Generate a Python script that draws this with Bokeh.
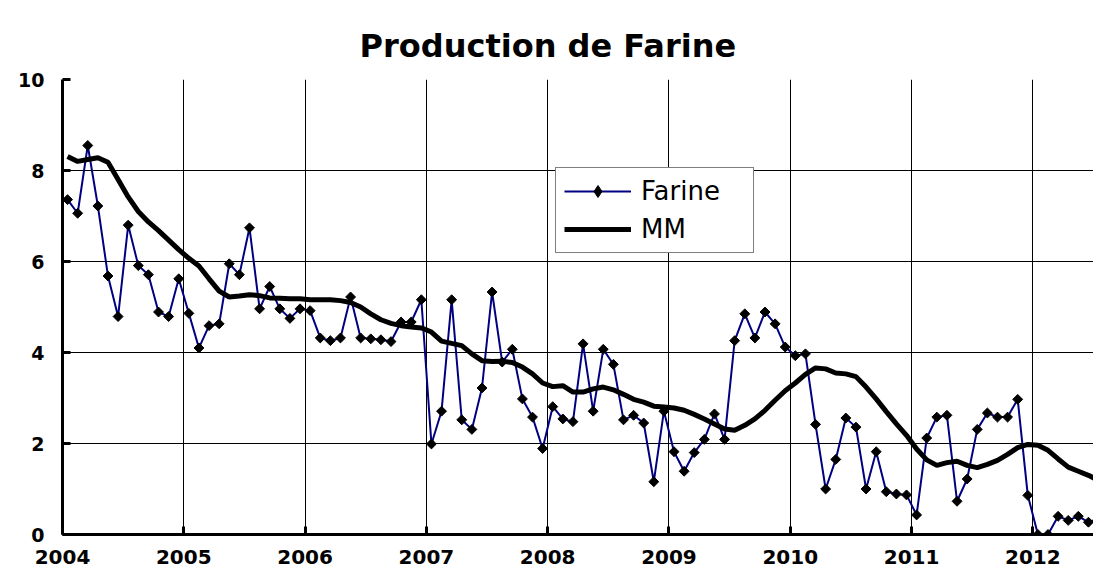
from bokeh.plotting import figure
from bokeh.models import FixedTicker, Range1d, Legend, LegendItem, ColumnDataSource
from bokeh.embed import file_html
from bokeh.resources import INLINE
import numpy as np

# ---- data (monthly, starting January 2004) ----
start_year = 2004
farine = [7.36, 7.06, 8.55, 7.22, 5.68, 4.79, 6.80, 5.91, 5.71, 4.89, 4.79, 5.62,
          4.86, 4.10, 4.59, 4.63, 5.95, 5.71, 6.74, 4.96, 5.45, 4.96, 4.75, 4.96,
          4.92, 4.32, 4.26, 4.32, 5.22, 4.32, 4.30, 4.28, 4.24, 4.67, 4.67, 5.16,
          1.99, 2.71, 5.16, 2.52, 2.31, 3.22, 5.33, 3.79, 4.07, 2.98, 2.58, 1.89,
          2.81, 2.54, 2.48, 4.19, 2.71, 4.07, 3.74, 2.52, 2.62, 2.45, 1.16, 2.71,
          1.82, 1.39, 1.80, 2.09, 2.65, 2.09, 4.26, 4.85, 4.32, 4.89, 4.63, 4.12,
          3.93, 3.97, 2.42, 1.00, 1.65, 2.56, 2.36, 1.00, 1.82, 0.94, 0.89, 0.87,
          0.43, 2.12, 2.58, 2.62, 0.73, 1.22, 2.31, 2.67, 2.58, 2.58, 2.97, 0.86,
          0.00, 0.00, 0.40, 0.31, 0.40, 0.27, 0.35]
mm = [8.31, 8.20, 8.24, 8.28, 8.18, 7.80, 7.42, 7.10, 6.87, 6.68, 6.47, 6.26,
      6.07, 5.90, 5.62, 5.35, 5.22, 5.24, 5.27, 5.25, 5.20, 5.19, 5.18, 5.18,
      5.16, 5.16, 5.16, 5.14, 5.10, 5.00, 4.85, 4.72, 4.64, 4.59, 4.56, 4.54,
      4.45, 4.25, 4.20, 4.15, 3.97, 3.82, 3.80, 3.81, 3.78, 3.68, 3.53, 3.33,
      3.25, 3.27, 3.13, 3.13, 3.20, 3.24, 3.18, 3.08, 2.97, 2.91, 2.82, 2.80,
      2.78, 2.73, 2.64, 2.54, 2.43, 2.32, 2.29, 2.40, 2.54, 2.73, 2.95, 3.16,
      3.33, 3.52, 3.66, 3.64, 3.55, 3.53, 3.47, 3.24, 2.98, 2.70, 2.43, 2.18,
      1.88, 1.64, 1.52, 1.58, 1.61, 1.52, 1.47, 1.54, 1.63, 1.76, 1.91, 1.98,
      1.96, 1.85, 1.66, 1.48, 1.39, 1.30, 1.19]
year_ticks = [2004, 2005, 2006, 2007, 2008, 2009, 2010, 2011, 2012]
year_labels = ["2004", "2005", "2006", "2007", "2008", "2009", "2010", "2011", "2012"]
y_ticks = [0, 2, 4, 6, 8, 10]
y_labels = ["0", "2", "4", "6", "8", "10"]
title_text = "Production de Farine"
series_names = ["Farine", "MM"]

x = [start_year + (i + 0.5) / 12.0 for i in range(len(farine))]

FONT = "DejaVu Sans"

p = figure(width=1086, height=564, output_backend="svg", toolbar_location=None,
           tools="", x_range=Range1d(2004, 2012.5), y_range=Range1d(0, 10),
           min_border_left=55, min_border_right=0, min_border_top=71,
           min_border_bottom=38)
p.styles = {"margin-left": "7px", "margin-top": "8px"}
p.outline_line_color = None
p.background_fill_color = "white"
p.border_fill_color = "white"

p.title.text = title_text
p.title.align = "left"
p.title.offset = 297
p.title.text_font = FONT
p.title.text_font_size = "32px"
p.title.text_font_style = "bold"
p.title.text_color = "black"
p.title.standoff = 30

# axes
for ax in (p.xaxis[0], p.yaxis[0]):
    ax.axis_line_width = 3
    ax.axis_line_color = "black"
    ax.major_tick_in = 8
    ax.major_tick_out = 0
    ax.major_tick_line_width = 3
    ax.major_tick_line_color = "black"
    ax.minor_tick_line_color = None
    ax.major_label_text_font = FONT
    ax.major_label_text_font_style = "bold"
    ax.major_label_text_color = "black"

p.xaxis.ticker = FixedTicker(ticks=year_ticks)
p.xaxis.major_label_overrides = {t: l for t, l in zip(year_ticks, year_labels)}
p.xaxis.major_label_text_font_size = "20px"
p.xaxis.major_label_standoff = 15

p.yaxis.ticker = FixedTicker(ticks=y_ticks)
p.yaxis.major_label_overrides = {t: l for t, l in zip(y_ticks, y_labels)}
p.yaxis.major_label_text_font_size = "19px"
p.yaxis.major_label_standoff = 18

p.xgrid.ticker = FixedTicker(ticks=year_ticks)
p.ygrid.ticker = FixedTicker(ticks=y_ticks)
for g in (p.xgrid[0], p.ygrid[0]):
    g.grid_line_color = "black"
    g.grid_line_width = 1
    g.grid_line_alpha = 1.0

# series
r_line = p.line(x, farine, line_color="#000080", line_width=2)
r_pts = p.scatter(x, farine, marker="square", angle=np.pi / 4, size=7,
                  fill_color="black", line_color="black")
r_mm = p.line(x, mm, line_color="black", line_width=5)
# legend-only marker (not shown in the plot area: NaN position)
leg_src = ColumnDataSource(data=dict(x=[float("nan")], y=[float("nan")]))
r_leg = p.scatter("x", "y", source=leg_src, marker="diamond", size=11,
                  fill_color="black", line_color="black")

legend = Legend(items=[LegendItem(label=series_names[0], renderers=[r_line, r_leg]),
                       LegendItem(label=series_names[1], renderers=[r_mm])],
                location=(493, 281))
legend.label_text_font = FONT
legend.label_text_font_size = "26px"
legend.label_text_color = "black"
legend.glyph_width = 67
legend.glyph_height = 30
legend.label_height = 30
legend.label_standoff = 10
legend.spacing = 8
legend.padding = 8
legend.margin = 0
legend.label_width = 104
legend.border_line_color = "black"
legend.border_line_width = 1
legend.background_fill_color = "white"
legend.background_fill_alpha = 1.0
p.add_layout(legend, "center")

open("out.html", "w").write(file_html(p, INLINE))
